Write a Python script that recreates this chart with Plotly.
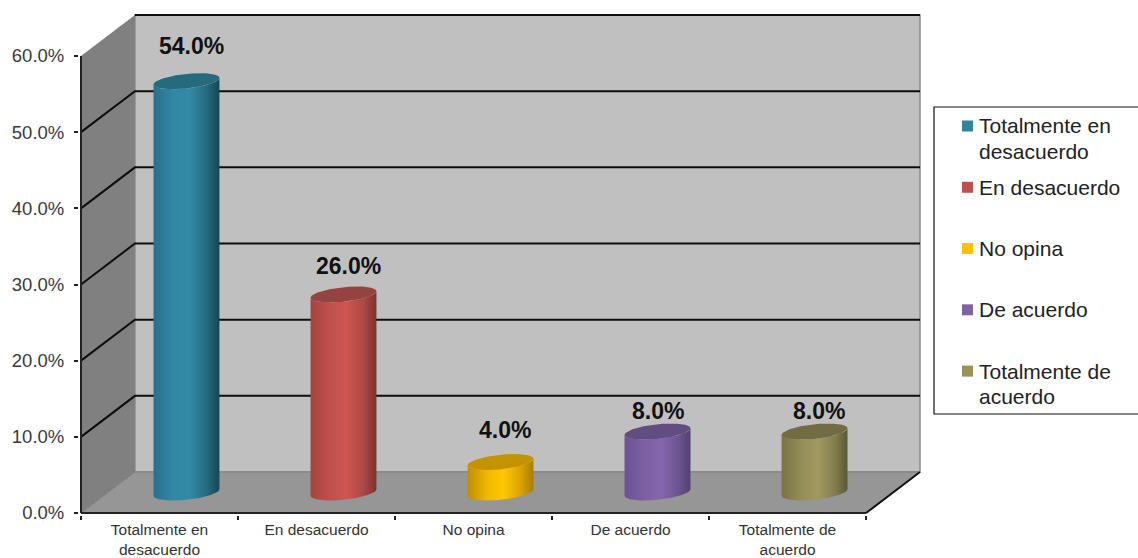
import numpy as np
import plotly.graph_objects as go

categories = ["Totalmente en desacuerdo", "En desacuerdo", "No opina", "De acuerdo", "Totalmente de acuerdo"]
axis_labels = ["Totalmente en<br>desacuerdo", "En desacuerdo", "No opina", "De acuerdo", "Totalmente de<br>acuerdo"]
legend_lines = [["Totalmente en", "desacuerdo"], ["En desacuerdo"], ["No opina"], ["De acuerdo"], ["Totalmente de", "acuerdo"]]
values = [54.0, 26.0, 4.0, 8.0, 8.0]
y_ticks = [0, 10, 20, 30, 40, 50, 60]
y_tick_text = ["0.0%", "10.0%", "20.0%", "30.0%", "40.0%", "50.0%", "60.0%"]

label_yshift = [20, 13, 17, 6, 6]
label_xshift = [5, 5, 4, 0, 4]
legend_colors = ["#31849b", "#c0504d", "#ffc000", "#8064a2", "#9a9158"]
cap_colors = ["#266a7e", "#964240", "#c49300", "#624d80", "#716c44"]
body_scales = [
    ["#27708a", "#3188a6", "#338aa6", "#24687c", "#154655"],
    ["#a54441", "#c0504d", "#cd5652", "#a84744", "#7a3331"],
    ["#c08e00", "#f0b800", "#ffc800", "#d8a000", "#a87f00"],
    ["#6a5290", "#7c60a2", "#8566ac", "#6c5490", "#544170"],
    ["#7a7446", "#938d58", "#a09a60", "#827c4c", "#5c5734"],
]

W, H = 1138, 558
PAD = 2
L, R, T, B = 81 - PAD, 920 + PAD, 15 - PAD, 513 + PAD
X_UNIT = 157.2
Y_UNIT = 7.617
DX = 54 / X_UNIT
DY = 41 / Y_UNIT
X0 = -0.5
X_FRONT_END = 4.5
X_END = X_FRONT_END + DX
Y_TOP = 60 + DY

RX = 33 / X_UNIT
SK = 3.3 / Y_UNIT
RY = 7.3 / Y_UNIT

fig = go.Figure()

for i, v in enumerate(values):
    cx = i + DX / 2
    y0 = DY / 2
    y1 = y0 + v
    t_low = np.linspace(np.pi, 2 * np.pi, 60)
    xb = cx + RX * np.cos(t_low)
    yb = y0 + SK * np.cos(t_low) + RY * np.sin(t_low)
    xt = (cx + RX * np.cos(t_low))[::-1]
    yt = (y1 + SK * np.cos(t_low) + RY * np.sin(t_low))[::-1]
    stops = [0, 0.3, 0.55, 0.82, 1]
    fig.add_trace(go.Scatter(
        x=np.concatenate([xb, xt]), y=np.concatenate([yb, yt]),
        mode="lines", fill="toself", line=dict(width=0),
        fillgradient=dict(type="horizontal",
                          colorscale=[[s, c] for s, c in zip(stops, body_scales[i])]),
        name=categories[i], hoverinfo="skip", showlegend=False,
    ))
    t = np.linspace(0, 2 * np.pi, 120)
    fig.add_trace(go.Scatter(
        x=cx + RX * np.cos(t), y=y1 + SK * np.cos(t) + RY * np.sin(t),
        mode="lines", fill="toself", fillcolor=cap_colors[i], line=dict(width=0),
        hoverinfo="skip", showlegend=False,
    ))
    fig.add_annotation(
        x=cx, y=y1, text=f"<b>{v:.1f}%</b>", showarrow=False, yanchor="bottom",
        xshift=label_xshift[i], yshift=label_yshift[i],
        font=dict(family="Liberation Sans", size=23, color="#111111"),
    )

shapes = []
def poly(pts, fill=None, color=None, width=0, xr="x", yr="y"):
    path = "M " + " L ".join(f"{a},{b}" for a, b in pts)
    if fill:
        path += " Z"
    shapes.append(dict(type="path", path=path, xref=xr, yref=yr, layer="below",
                       fillcolor=fill if fill else "rgba(0,0,0,0)",
                       line=dict(color=color if color else "rgba(0,0,0,0)", width=width)))

# back wall, side wall, floor
poly([(X0 + DX, DY), (X_END, DY), (X_END, Y_TOP), (X0 + DX, Y_TOP)], fill="#c0c0c0", color="#8a8a8a", width=1.5)
poly([(X0, 0), (X0 + DX, DY), (X0 + DX, Y_TOP), (X0, 60)], fill="#808080")
poly([(X0, 0), (X_FRONT_END, 0), (X_END, DY), (X0 + DX, DY)], fill="#969696", color="#7c7c7c", width=1)
# gridlines
for v in y_ticks[1:]:
    poly([(X0, v), (X0 + DX, v + DY), (X_END, v + DY)] if v < 60 else [(X0 + DX, v + DY), (X_END, v + DY)],
         color="#0d0d0d", width=2)
# axis lines
poly([(X0, 0), (X0, 60)], color="#222222", width=2)
poly([(X0, 0), (X_FRONT_END, 0)], color="#222222", width=2)
poly([(X_FRONT_END, 0), (X_END, DY)], color="#111111", width=2)

# legend box
shapes.append(dict(type="rect", xref="paper", yref="paper", x0=934 / W, x1=1.003,
                   y0=(H - 414) / H, y1=(H - 107) / H, line=dict(color="#111111", width=1.2),
                   fillcolor="white", layer="below"))

fig.add_trace(go.Scatter(
    x=[33.5] * 5, y=list(range(5)), xaxis="x2", yaxis="y2", mode="markers",
    marker=dict(symbol="square", size=11, color=legend_colors),
    hoverinfo="skip", showlegend=False,
))
for i, lines in enumerate(legend_lines):
    for j, txt in enumerate(lines):
        fig.add_annotation(
            x=43, y=i, xref="x2", yref="y2", text=txt, showarrow=False,
            xanchor="left", yanchor="middle", align="left", yshift=-25 * j,
            font=dict(family="Liberation Sans", size=21, color="#222222"),
        )

fig.update_layout(
    width=W, height=H, margin=dict(l=0, r=0, t=0, b=0),
    paper_bgcolor="white", plot_bgcolor="rgba(0,0,0,0)", showlegend=False,
    shapes=shapes,
    xaxis=dict(domain=[L / W, R / W], range=[X0 - PAD / X_UNIT, X_END + PAD / X_UNIT],
               showgrid=False, zeroline=False,
               showline=False, tickmode="array", tickvals=list(range(5)), ticktext=axis_labels,
               ticks="", ticklabelstandoff=3, automargin=False,
               tickfont=dict(family="Liberation Sans", size=15.5, color="#333333"),
               minor=dict(tickmode="array", tickvals=[-0.5, 0.5, 1.5, 2.5, 3.5, 4.5],
                          ticks="outside", ticklen=4, tickwidth=2, tickcolor="#222222", showgrid=False)),
    yaxis=dict(domain=[(H - B) / H, (H - T) / H], range=[-PAD / Y_UNIT, Y_TOP + PAD / Y_UNIT],
               showgrid=False, zeroline=False,
               showline=False, tickmode="array", tickvals=y_ticks, ticktext=y_tick_text,
               ticks="outside", ticklen=4, tickwidth=2, tickcolor="#222222", ticklabelstandoff=6,
               automargin=False,
               tickfont=dict(family="Liberation Sans", size=18.5, color="#3a3a3a")),
    xaxis2=dict(domain=[934 / W, 1], range=[0, 204], visible=False, anchor="y2"),
    yaxis2=dict(domain=[(H - 414) / H, (H - 107) / H], range=[4.70, -0.31], visible=False, anchor="x2"),
)

fig.write_html("out.html", config=dict(displayModeBar=False),
               post_script="document.body.style.margin='0';document.body.style.overflow='hidden';")
